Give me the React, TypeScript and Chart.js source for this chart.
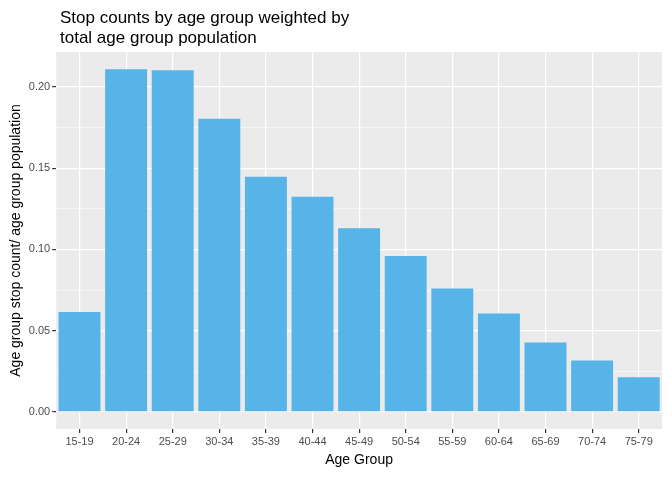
import React, { useEffect, useRef } from "react";
import { Chart, registerables } from "chart.js";
Chart.register(...registerables);

const categories = ["15-19","20-24","25-29","30-34","35-39","40-44","45-49","50-54","55-59","60-64","65-69","70-74","75-79"];
const values = [0.0614,0.211,0.2103,0.1805,0.1447,0.1325,0.113,0.096,0.076,0.0605,0.0426,0.0316,0.0213];
const yTicks = [0, 0.025, 0.05, 0.075, 0.1, 0.125, 0.15, 0.175, 0.2];
const titleLines = ["Stop counts by age group weighted by", "total age group population"];

const bg = {
  id: "bg",
  beforeDraw(chart: any) {
    const { ctx, chartArea: a } = chart;
    ctx.save();
    ctx.fillStyle = "#EBEBEB";
    ctx.fillRect(a.left, a.top, a.right - a.left, a.bottom - a.top);
    ctx.restore();
  },
  afterDraw(chart: any) {
    const { ctx } = chart;
    ctx.save();
    ctx.fillStyle = "#000";
    ctx.font = "17px 'Liberation Sans', Arial";
    ctx.textBaseline = "alphabetic";
    titleLines.forEach((t, i) => ctx.fillText(t, 60, 23 + i * 20));
    ctx.restore();
  },
};

export default function App() {
  const ref = useRef<HTMLCanvasElement>(null);
  useEffect(() => {
    const c = new Chart(ref.current!, {
      type: "bar",
      data: { labels: categories, datasets: [{ data: values, backgroundColor: "#56B4E9", categoryPercentage: 0.9, barPercentage: 1 }] },
      plugins: [bg],
      options: {
        animation: false,
        responsive: false,
        layout: { padding: { left: 4, right: 10, top: 52, bottom: 7 } },
        plugins: {
          legend: { display: false },
          tooltip: { enabled: false },
          title: { display: false },
        },
        scales: {
          x: {
            offset: true,
            grid: { color: "#FFFFFF", lineWidth: 1.2, offset: false, tickColor: "#333", tickLength: 4, drawTicks: true },
            border: { display: false },
            ticks: { color: "#4D4D4D", font: { family: "Liberation Sans, Arial", size: 11 }, padding: 2, maxRotation: 0 },
            title: { display: true, text: "Age Group", color: "#000", font: { family: "Liberation Sans, Arial", size: 14 }, padding: { top: 2 } },
          },
          y: {
            min: -0.0106,
            max: 0.2216,
            afterBuildTicks(s: any) { s.ticks = yTicks.map((v) => ({ value: v })); },
            grid: {
              color: "#FFFFFF",
              lineWidth: (ctx: any) => (Math.round(ctx.tick?.value * 1000) % 50 === 0 ? 1.2 : 0.5),
              tickColor: (ctx: any) => (Math.round(ctx.tick?.value * 1000) % 50 === 0 ? "#333" : "rgba(0,0,0,0)"),
              tickLength: 4,
            },
            border: { display: false },
            ticks: {
              color: "#4D4D4D",
              font: { family: "Liberation Sans, Arial", size: 11 },
              padding: 2,
              callback: (v: any) => (Math.round(Number(v) * 1000) % 50 === 0 ? Number(v).toFixed(2) : ""),
            },
            title: { display: true, text: "Age group stop count/ age group population", color: "#000", font: { family: "Liberation Sans, Arial", size: 14 }, padding: { bottom: 2 } },
          },
        },
      },
    });
    return () => c.destroy();
  }, []);
  return (
    <div style={{ position: "absolute", left: 0, top: 0, background: "#fff" }}>
      <canvas ref={ref} width={672} height={480} />
    </div>
  );
}
